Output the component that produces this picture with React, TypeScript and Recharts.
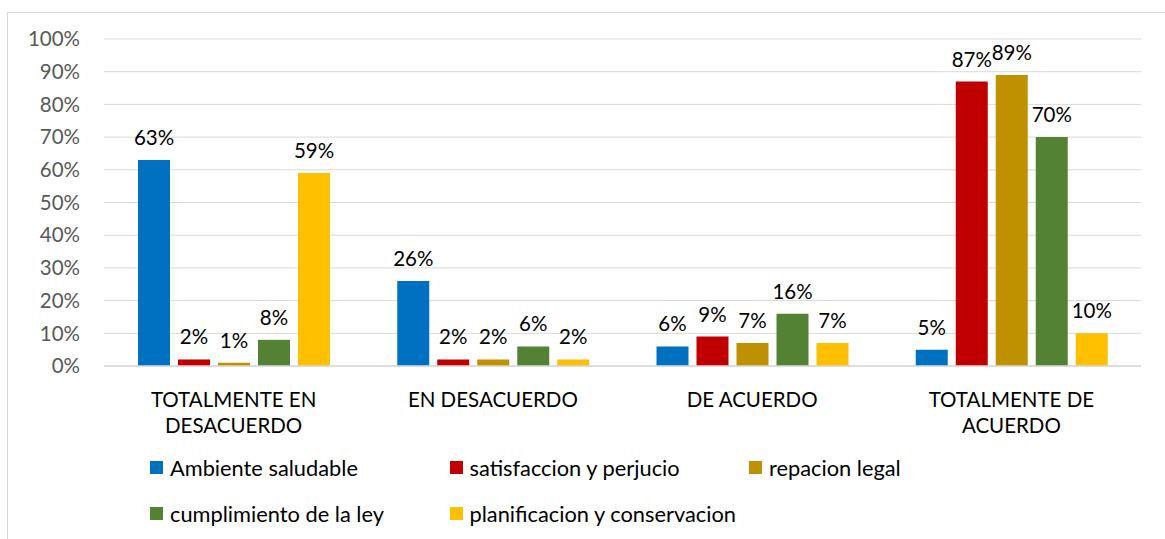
import React from "react";
import {
  BarChart,
  Bar,
  XAxis,
  YAxis,
  CartesianGrid,
  LabelList,
  Text,
} from "recharts";

const categories = [
  "TOTALMENTE EN DESACUERDO",
  "EN DESACUERDO",
  "DE ACUERDO",
  "TOTALMENTE DE ACUERDO",
];
const ambienteSaludable = [63, 26, 6, 5];
const satisfaccionPerjucio = [2, 2, 9, 87];
const repacionLegal = [1, 2, 7, 89];
const cumplimientoLey = [8, 6, 16, 70];
const planificacionConservacion = [59, 2, 7, 10];
const yTicks = [0, 10, 20, 30, 40, 50, 60, 70, 80, 90, 100];

const seriesDefs = [
  { key: "ambiente", name: "Ambiente saludable", color: "#0070C0", values: ambienteSaludable },
  { key: "satisfaccion", name: "satisfaccion y perjucio", color: "#C00000", values: satisfaccionPerjucio },
  { key: "repacion", name: "repacion legal", color: "#BF9000", values: repacionLegal },
  { key: "cumplimiento", name: "cumplimiento de la ley", color: "#548235", values: cumplimientoLey },
  { key: "planificacion", name: "planificacion y conservacion", color: "#FFC000", values: planificacionConservacion },
];

const data = categories.map((c, i) => {
  const row: Record<string, string | number> = { category: c };
  seriesDefs.forEach((s) => {
    row[s.key] = s.values[i];
  });
  return row;
});

const FONT = "Lato, 'Open Sans', sans-serif";

const CategoryTick = (props: any) => {
  const { x, y, payload } = props;
  return (
    <Text
      x={x}
      y={y}
      width={210}
      textAnchor="middle"
      verticalAnchor="start"
      lineHeight={26}
      style={{ fontFamily: FONT, fontSize: 20.5, fill: "#000000" }}
    >
      {payload.value}
    </Text>
  );
};

const ChartLegend = () => {
  const order = [
    [0, 1, 2],
    [3, 4],
  ];
  return (
    <div style={{ position: "absolute", left: 0, top: 454, width: 1165, height: 90, fontFamily: FONT, fontSize: 21.8, color: "#000" }}>
      {order.map((row, r) =>
        row.map((idx, c) => {
          const s = seriesDefs[idx];
          return (
            <div
              key={s.key}
              style={{
                position: "absolute",
                left: 150 + c * 299.5,
                top: r * 46,
                display: "flex",
                alignItems: "center",
                height: 26,
                whiteSpace: "nowrap",
              }}
            >
              <span style={{ display: "inline-block", width: 13, height: 13, background: s.color, marginRight: 7 }} />
              <span>{s.name}</span>
            </div>
          );
        })
      )}
    </div>
  );
};

export default function App() {
  return (
    <div style={{ position: "absolute", left: 0, top: 0, width: 1165, height: 539, background: "#fff", overflow: "hidden" }}>
      <div
        style={{
          position: "absolute",
          left: 7,
          top: 12,
          width: 1200,
          height: 600,
          border: "1px solid #d9d9d9",
          boxSizing: "border-box",
        }}
      />
      <div style={{ position: "absolute", left: 0, top: 0 }}>
        <BarChart
          width={1165}
          height={539}
          data={data}
          margin={{ top: 39, right: 24, left: 0, bottom: 1 }}
          barSize={32}
          barGap={8}
        >
          <CartesianGrid vertical={false} stroke="#d9d9d9" strokeWidth={1} />
          <XAxis
            dataKey="category"
            axisLine={{ stroke: "#d9d9d9", strokeWidth: 1.5 }}
            tickLine={false}
            tick={<CategoryTick />}
            height={172}
            interval={0}
            tickMargin={20}
          />
          <YAxis
            type="number"
            domain={[0, 100]}
            ticks={yTicks}
            width={104}
            axisLine={false}
            tickLine={false}
            tickSize={0}
            tickMargin={24}
            tickFormatter={(v: number) => `${v}%`}
            tick={{ fontFamily: FONT, fontSize: 20.5, fill: "#595959" }}
            interval={0}
          />
          {seriesDefs.map((s) => (
            <Bar key={s.key} dataKey={s.key} name={s.name} fill={s.color} isAnimationActive={false}>
              <LabelList
                dataKey={s.key}
                position="top"
                offset={15}
                formatter={(v: number) => `${v}%`}
                style={{ fontFamily: FONT, fontSize: 20.5, fill: "#000000" }}
              />
            </Bar>
          ))}
        </BarChart>
      </div>
      <ChartLegend />
    </div>
  );
}
